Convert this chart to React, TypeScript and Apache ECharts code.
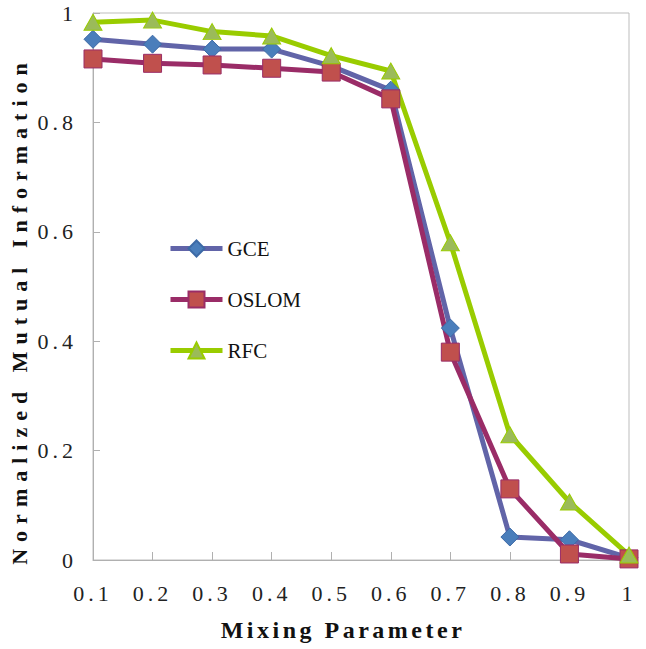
import { useEffect, useRef } from 'react';
import * as echarts from 'echarts';

const categories = ['0.1', '0.2', '0.3', '0.4', '0.5', '0.6', '0.7', '0.8', '0.9', '1'];
const gceValues = [0.952, 0.943, 0.934, 0.934, 0.903, 0.859, 0.424, 0.042, 0.037, 0.004];
const oslomValues = [0.916, 0.908, 0.905, 0.899, 0.892, 0.843, 0.38, 0.13, 0.011, 0.002];
const rfcValues = [0.983, 0.987, 0.966, 0.958, 0.922, 0.894, 0.58, 0.229, 0.106, 0.009];
const seriesNames = ['GCE', 'OSLOM', 'RFC'];
const xTitle = 'Mixing Parameter';
const yTitle = 'Normalized Mutual Information';

const SERIF = 'Liberation Serif, serif';

export default function App() {
  const ref = useRef<HTMLDivElement>(null);
  useEffect(() => {
    if (!ref.current) return;
    const el = ref.current;
    const chart = echarts.init(el, null, { renderer: 'svg' });
    const option = {
      animation: false,
      backgroundColor: '#ffffff',
      grid: {
        left: 93,
        right: 17,
        top: 13,
        bottom: 89,
        show: true,
        borderColor: '#BDBDBD',
        borderWidth: 1,
        backgroundColor: 'transparent',
      },
      legend: {
        orient: 'vertical',
        left: 163,
        top: 233,
        itemWidth: 52,
        itemHeight: 20,
        itemGap: 30,
        data: seriesNames,
        lineStyle: { width: 5 },
        textStyle: { fontFamily: SERIF, fontSize: 21, color: '#111', lineHeight: 20 },
      },
      xAxis: {
        type: 'category',
        data: categories,
        boundaryGap: false,
        axisLine: { lineStyle: { color: '#B0B0B0', width: 1 } },
        axisTick: { inside: true, length: 8, alignWithLabel: true, lineStyle: { color: '#B0B0B0' } },
        axisLabel: { fontFamily: SERIF, fontSize: 22, color: '#222', margin: 22 },
        name: xTitle,
        nameLocation: 'middle',
        nameGap: 58,
        nameTextStyle: {
          fontFamily: SERIF,
          fontSize: 24,
          fontWeight: 'bold',
          color: '#111',
          padding: [0, 36, 0, 0],
        },
      },
      yAxis: {
        type: 'value',
        min: 0,
        max: 1,
        interval: 0.2,
        splitLine: { show: false },
        axisLine: { show: true, lineStyle: { color: '#B0B0B0', width: 1 } },
        axisTick: { show: true, inside: true, length: 7, lineStyle: { color: '#B0B0B0' } },
        axisLabel: { fontFamily: SERIF, fontSize: 22, color: '#222', margin: 16 },
        name: yTitle,
        nameLocation: 'middle',
        nameGap: 63,
        nameTextStyle: {
          fontFamily: SERIF,
          fontSize: 22,
          fontWeight: 'bold',
          color: '#111',
          padding: [0, 48, 0, 0],
        },
      },
      series: [
        {
          name: seriesNames[0],
          type: 'line',
          data: gceValues,
          symbol: 'diamond',
          symbolSize: 18,
          lineStyle: { color: '#6164A8', width: 5 },
          itemStyle: { color: '#4A7EBB', borderColor: '#3D6AA6', borderWidth: 1 },
        },
        {
          name: seriesNames[1],
          type: 'line',
          data: oslomValues,
          symbol: 'rect',
          symbolSize: 18,
          lineStyle: { color: '#9A2C67', width: 5 },
          itemStyle: { color: '#C0504D', borderColor: '#9A2C67', borderWidth: 1 },
        },
        {
          name: seriesNames[2],
          type: 'line',
          data: rfcValues,
          symbol: 'triangle',
          symbolSize: [18, 16],
          lineStyle: { color: '#99CC00', width: 5 },
          itemStyle: { color: '#9BBB59', borderColor: '#99CC00', borderWidth: 1 },
        },
      ],
    };
    chart.setOption(option as any);

    const tickSet = new Set<string>([...categories, '0', '0.2', '0.4', '0.6', '0.8']);
    const applySpacing = () => {
      el.querySelectorAll('text').forEach((t) => {
        const s = (t.textContent || '').trim();
        if (s === xTitle) t.style.letterSpacing = '3.5px';
        else if (s === yTitle) t.style.letterSpacing = '7px';
        else if (tickSet.has(s)) t.style.letterSpacing = '4px';
      });
    };
    chart.on('finished', applySpacing);
    applySpacing();
    const timer = setTimeout(applySpacing, 50);
    return () => {
      clearTimeout(timer);
      chart.dispose();
    };
  }, []);
  return (
    <div
      ref={ref}
      style={{ position: 'absolute', left: 0, top: 0, width: 646, height: 649, background: '#fff' }}
    />
  );
}
